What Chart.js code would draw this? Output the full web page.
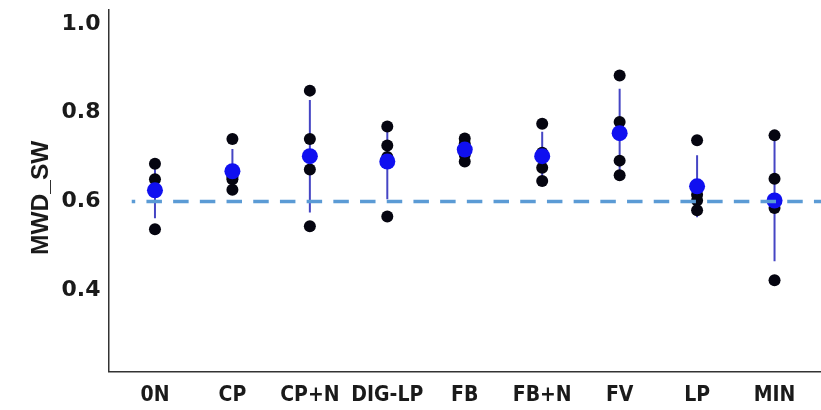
<!DOCTYPE html>
<html>
<head>
<meta charset="utf-8">
<script src="https://cdn.jsdelivr.net/npm/chart.js@4/dist/chart.umd.min.js"></script>
<style>
  html, body { margin: 0; padding: 0; background: #ffffff; }
  #wrap { width: 821px; height: 410px; position: relative; }
</style>
</head>
<body>
<div id="wrap"><canvas id="c" width="821" height="410"></canvas></div>
<script>
// Categories (x axis)
const categories = ["0N", "CP", "CP+N", "DIG-LP", "FB", "FB+N", "FV", "LP", "MIN"];
const rep1 = [0.685, 0.741, 0.850, 0.769, 0.742, 0.775, 0.884, 0.738, 0.749];
const rep2 = [0.650, 0.655, 0.741, 0.726, 0.730, 0.710, 0.779, 0.615, 0.651];
const rep3 = [0.628, 0.650, 0.672, 0.700, 0.705, 0.676, 0.692, 0.602, 0.585];
const rep4 = [0.537, 0.626, 0.544, 0.566, 0.690, 0.646, 0.659, 0.580, 0.422];
// Group means (blue points) and error-bar half widths
const means = [0.625, 0.668, 0.702, 0.690, 0.717, 0.702, 0.754, 0.634, 0.602];
const errs  = [0.063, 0.050, 0.127, 0.085, 0.023, 0.055, 0.100, 0.070, 0.137];
// Reference line, y tick labels, axis title
const refValue = 0.6;
const yTicks = [0.4, 0.6, 0.8, 1.0];
const yTitle = 'MWD_SW';

const obsPoints = [];
[rep1, rep2, rep3, rep4].forEach(r => r.forEach((v, i) => obsPoints.push({x: i, y: v})));
const meanPoints = means.map((v, i) => ({x: i, y: v}));
const errPoints = [];
means.forEach((m, i) => {
  errPoints.push({x: i, y: m - errs[i]});
  errPoints.push({x: i, y: m + errs[i]});
  errPoints.push({x: i, y: null});
});

const yFont = {family: "'DejaVu Sans', sans-serif", weight: 'bold', size: 22};
const xFont = {family: "'DejaVu Sans Condensed', 'DejaVu Sans', sans-serif", weight: 'bold', size: 21};

// Draws the rotated y-axis title, centred slightly below the plot middle as in the original
const yTitlePlugin = {
  id: 'yTitle',
  afterDraw(chart) {
    const ctx = chart.ctx;
    const ya = chart.scales.y;
    ctx.save();
    ctx.translate(41, (ya.top + ya.bottom) / 2 + 7);
    ctx.rotate(-Math.PI / 2);
    ctx.font = "bold 24.5px 'Liberation Sans', Arial, sans-serif";
    ctx.fillStyle = '#1a1a1a';
    ctx.textAlign = 'center';
    ctx.textBaseline = 'middle';
    ctx.fillText(yTitle, 0, 0);
    ctx.restore();
  }
};

new Chart(document.getElementById('c'), {
  type: 'scatter',
  data: {
    datasets: [
      {
        label: 'ref', type: 'line', order: 0,
        data: [{x: -0.3, y: refValue}, {x: 8.6, y: refValue}],
        borderColor: '#5b9bd5', borderWidth: 3.5,
        borderDash: [15.5, 11.2], borderDashOffset: 12,
        pointRadius: 0, fill: false
      },
      {
        label: 'mean', order: 1,
        data: meanPoints,
        backgroundColor: '#1010f0', borderColor: '#1010f0',
        pointRadius: 8, borderWidth: 0
      },
      {
        label: 'obs', order: 2,
        data: obsPoints,
        backgroundColor: '#050510', borderColor: '#050510',
        pointRadius: 6, borderWidth: 0
      },
      {
        label: 'err', type: 'line', order: 3,
        data: errPoints,
        borderColor: '#4545c4', borderWidth: 2,
        pointRadius: 0, spanGaps: false, fill: false
      }
    ]
  },
  plugins: [yTitlePlugin],
  options: {
    responsive: false,
    animation: false,
    layout: {autoPadding: false, padding: {top: 10, right: 0, left: 0, bottom: 0}},
    plugins: {legend: {display: false}, tooltip: {enabled: false}},
    scales: {
      x: {
        type: 'linear', min: -0.6, max: 8.6,
        grid: {display: false, drawTicks: true, tickLength: 5, tickColor: '#555'},
        border: {display: true, color: '#333', width: 1.5},
        afterBuildTicks: s => { s.ticks = categories.map((c, i) => ({value: i})); },
        afterFit: s => { s.height = 38.5; s.paddingLeft = 0; s.paddingRight = 0; },
        ticks: {
          autoSkip: false, maxRotation: 0, padding: 6,
          color: '#1a1a1a', font: xFont,
          callback: v => categories[v]
        }
      },
      y: {
        type: 'linear', min: 0.216, max: 1.032,
        grid: {display: false, drawTicks: true, tickLength: 5, tickColor: '#555'},
        border: {display: true, color: '#333', width: 1.5},
        afterBuildTicks: s => { s.ticks = yTicks.map(v => ({value: v})); },
        afterFit: s => { s.width = 108.5; s.paddingTop = 0; s.paddingBottom = 0; },
        title: {display: false},
        ticks: {
          color: '#1a1a1a', font: yFont, padding: 3,
          callback: v => v.toFixed(1)
        }
      }
    }
  }
});
</script>
</body>
</html>
